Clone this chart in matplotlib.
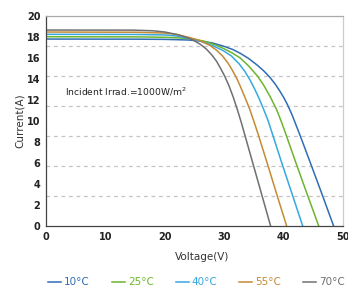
import matplotlib.pyplot as plt

# Read-off points of the I-V curves (voltage V, current A)
v_10 = [0, 15, 20, 24, 26, 28, 29.85, 31.5, 32.7, 34, 35.5, 36.7, 37.7, 38.6, 39.3, 40.0,
        40.6, 41.4, 42.8, 44.6, 46.5, 48.4]
i_10 = [17.81, 17.80, 17.78, 17.72, 17.62, 17.44, 17.14, 16.8, 16.45, 16.0, 15.35, 14.75,
        14.15, 13.5, 12.9, 12.25, 11.6, 10.6, 8.57, 5.85, 2.95, 0]

v_25 = [0, 15, 20, 23, 25, 27, 28.5, 29.85, 31.3, 32.7, 34.1, 35.5, 36.6, 37.7, 38.8, 39.6,
        40.3, 42.1, 44.0, 45.9]
i_25 = [18.03, 18.02, 17.98, 17.9, 17.8, 17.55, 17.25, 16.92, 16.5, 16.0, 15.25, 14.35,
        13.45, 12.35, 11.1, 9.95, 8.85, 5.95, 2.95, 0]

v_40 = [0, 15, 20, 22, 24, 26, 28, 29.85, 31.2, 32.5, 33.5, 34.4, 35.2, 35.9, 36.6, 37.4,
        38.2, 39.8, 41.5, 43.2]
i_40 = [18.26, 18.25, 18.2, 18.1, 17.88, 17.6, 17.2, 16.7, 16.2, 15.45, 14.7, 13.85, 12.95,
        12.1, 11.15, 10.0, 8.6, 5.8, 2.9, 0]

v_55 = [0, 15, 20, 22, 24.2, 26, 27.6, 28.7, 29.7, 30.6, 31.4, 32.2, 32.9, 33.6, 34.3, 35.0,
        35.7, 37.3, 38.9, 40.5]
i_55 = [18.48, 18.46, 18.38, 18.25, 17.95, 17.65, 17.2, 16.75, 16.2, 15.55, 14.8, 13.95,
        13.05, 12.1, 11.1, 9.95, 8.75, 5.85, 2.9, 0]

v_70 = [0, 14.6, 18, 20, 22, 23.5, 24.8, 26, 27, 27.9, 28.7, 29.4, 30.1, 30.8, 31.5, 32.2,
        32.9, 33.6, 35.0, 36.4, 37.8]
i_70 = [18.67, 18.66, 18.6, 18.48, 18.25, 18.0, 17.7, 17.3, 16.85, 16.3, 15.7, 15.0, 14.25,
        13.35, 12.3, 11.1, 9.8, 8.4, 5.6, 2.8, 0]

labels = ['10°C', '25°C', '40°C', '55°C', '70°C']
colors = ['#2f6db5', '#6cb52e', '#36a8e0', '#c58a35', '#707070']
grid_levels = [20 / 7 * k for k in range(1, 7)]

fig = plt.figure(figsize=(3.48, 2.87), dpi=100)
ax = fig.add_axes([0.132, 0.2125, 0.854, 0.7315])

curves = [(v_10, i_10), (v_25, i_25), (v_40, i_40), (v_55, i_55), (v_70, i_70)]
for (v, i), lab, c in zip(curves, labels, colors):
    ax.plot(v, i, color=c, lw=1.1, label=lab, solid_joinstyle='round')

# dashed reference lines
for g in grid_levels:
    ax.axhline(g, color='#c4c4c4', lw=0.9, ls=(0, (3, 3)), zorder=0)

ax.set_xlim(0, 50)
ax.set_ylim(0, 20)
ax.set_xticks(range(0, 51, 10))
ax.set_yticks(range(0, 21, 2))
ax.tick_params(length=0, pad=4, labelsize=7, colors='#222222')
for lab in ax.get_xticklabels() + ax.get_yticklabels():
    lab.set_fontweight('bold')

ax.spines['left'].set_color('#444444')
ax.spines['bottom'].set_color('#444444')
ax.spines['top'].set_color('#aaaaaa')
ax.spines['top'].set_linestyle((0, (2, 1)))
ax.spines['right'].set_color('#cccccc')
for s in ax.spines.values():
    s.set_linewidth(0.9)

ax.set_xlabel('Voltage(V)', fontsize=7.5, color='#333333')
ax.xaxis.set_label_coords(0.525, -0.125)
ax.set_ylabel('Current(A)', fontsize=7.5, color='#333333', labelpad=1)

ax.text(3.2, 12.75, 'Incident Irrad.=1000W/m$^2$', fontsize=6.6, color='#222222', va='center')

fig.legend(loc='center', bbox_to_anchor=(0.565, 0.016), ncol=5, frameon=False,
           fontsize=7.5, handlelength=1.25, handletextpad=0.3, columnspacing=2.1,
           labelcolor='linecolor')

fig.savefig('out.png', dpi=100)
